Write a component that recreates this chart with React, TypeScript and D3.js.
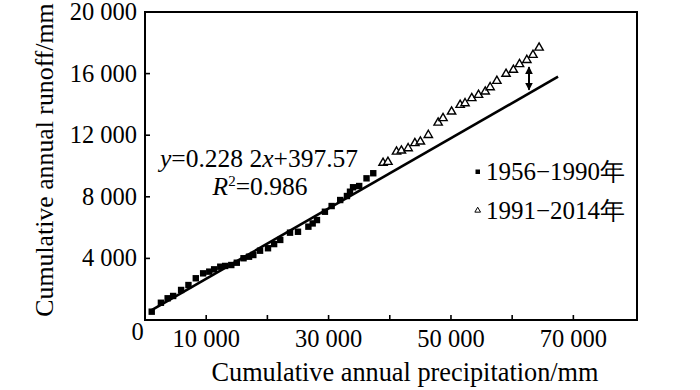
import React from 'react';
import * as d3 from 'd3';

// Cumulative annual precipitation (mm) and runoff (mm)
const precip1956 = [1100, 2600, 3700, 4600, 5900, 7100, 8300, 9500, 10500, 11300, 12300, 13100, 14100, 15000, 16100, 17000, 17700, 18800, 20100, 21100, 22100, 23700, 25000, 26700, 27400, 28100, 29400, 30500, 31900, 33000, 33500, 34000, 35000, 36200, 37300];
const runoff1956 = [540, 1120, 1410, 1560, 1950, 2270, 2710, 3030, 3140, 3290, 3460, 3510, 3570, 3720, 4010, 4110, 4220, 4500, 4660, 4930, 5200, 5670, 5730, 6060, 6270, 6490, 7030, 7400, 7790, 8050, 8330, 8620, 8700, 9200, 9530];
const precip1991 = [38900, 39700, 41100, 41900, 43000, 44100, 45000, 46300, 47900, 48700, 50100, 51500, 52300, 53400, 54500, 55600, 56400, 57500, 59000, 60200, 61200, 62400, 63400, 64400];
const runoff1991 = [10200, 10260, 10930, 11000, 11150, 11480, 11580, 12010, 12810, 13100, 13530, 13960, 14070, 14400, 14610, 14830, 15110, 15520, 15980, 16240, 16610, 16880, 17210, 17680];

const xTicks = [10000, 20000, 30000, 40000, 50000, 60000, 70000];
const xTickLabels = [10000, 30000, 50000, 70000];
const yTicks = [4000, 8000, 12000, 16000, 20000];
const slope = 0.2282;
const intercept = 397.57;
const fitRange = [800, 67500];
const arrowX = 62750;
const arrowRange = [14950, 16420];
const legendLabels = ['1956\u22121990\u5e74', '1991\u22122014\u5e74'];

const FONT = '"Liberation Serif", "Times New Roman", serif';

export default function App() {
  const x = d3.scaleLinear().domain([0, 80400]).range([145, 637]);
  const y = d3.scaleLinear().domain([0, 20000]).range([320, 12]);
  const fmt = d3.formatLocale({ thousands: ' ', grouping: [3], decimal: '.', currency: ['', ''] }).format(',');
  const tri = d3.symbol(d3.symbolTriangle, 30)();
  const triSmall = d3.symbol(d3.symbolTriangle, 14)();
  const fitLine = d3.line<number>().x((d) => x(d)).y((d) => y(slope * d + intercept))(fitRange);
  const [x0, x1] = x.range();
  const [yb, yt] = y.range();

  return (
    <svg width={700} height={390} style={{ position: 'absolute', left: 0, top: 0, background: '#fff' }} fontFamily={FONT}>
      <rect x={0} y={0} width={700} height={390} fill="#fff" />
      {/* frame */}
      <rect x={x0} y={yt} width={x1 - x0} height={yb - yt} fill="none" stroke="#000" strokeWidth={2} />
      {/* x ticks */}
      {xTicks.map((t) => (
        <line key={'xt' + t} x1={x(t)} x2={x(t)} y1={yb} y2={yb - 5} stroke="#000" strokeWidth={1.6} />
      ))}
      {xTickLabels.map((t) => (
        <text key={'xl' + t} x={x(t)} y={347} textAnchor="middle" fontSize={24.5}>{fmt(t)}</text>
      ))}
      <text x={137.5} y={340} textAnchor="middle" fontSize={24.5}>0</text>
      {/* y ticks */}
      {yTicks.map((t) => (
        <line key={'yt' + t} x1={x0} x2={x0 + 5} y1={y(t)} y2={y(t)} stroke="#000" strokeWidth={1.6} />
      ))}
      {yTicks.map((t) => (
        <text key={'yl' + t} x={137} y={y(t) + 8} textAnchor="end" fontSize={24.5}>{fmt(t)}</text>
      ))}
      {/* axis titles */}
      <text x={405} y={381} textAnchor="middle" fontSize={26.3}>Cumulative annual precipitation/mm</text>
      <text transform="translate(53,160) rotate(-90)" textAnchor="middle" fontSize={25.8}>Cumulative annual runoff/mm</text>
      {/* fit line */}
      <path d={fitLine || ''} fill="none" stroke="#000" strokeWidth={2.6} />
      {/* squares */}
      {precip1956.map((p, i) => (
        <rect key={'s' + i} x={x(p) - 3.2} y={y(runoff1956[i]) - 3.2} width={6.4} height={6.4} fill="#000" />
      ))}
      {/* triangles */}
      {precip1991.map((p, i) => (
        <path key={'t' + i} d={tri || ''} transform={`translate(${x(p)},${y(runoff1991[i])})`} fill="#fff" stroke="#000" strokeWidth={1.4} />
      ))}
      {/* double arrow */}
      <defs>
        <marker id="ah" viewBox="0 0 10 10" refX={9} refY={5} markerWidth={4} markerHeight={4} orient="auto-start-reverse">
          <path d="M0,0 L10,5 L0,10 z" fill="#000" />
        </marker>
      </defs>
      <line x1={x(arrowX)} x2={x(arrowX)} y1={y(arrowRange[0])} y2={y(arrowRange[1])} stroke="#000" strokeWidth={2} markerStart="url(#ah)" markerEnd="url(#ah)" />
      {/* equation */}
      <text x={259} y={167} textAnchor="middle" fontSize={25.5}>
        <tspan fontStyle="italic">y</tspan>=0.228 2<tspan fontStyle="italic">x</tspan>+397.57
      </text>
      <text x={260} y={195} textAnchor="middle" fontSize={25.5}>
        <tspan fontStyle="italic">R</tspan><tspan fontSize={15} dy={-9}>2</tspan><tspan dy={9}>=0.986</tspan>
      </text>
      {/* legend */}
      <rect x={475.5} y={169.5} width={4.5} height={4.5} fill="#000" />
      <text x={486} y={180} fontSize={25}>{legendLabels[0]}</text>
      <path d={triSmall || ''} transform="translate(477.7,210.5)" fill="#fff" stroke="#000" strokeWidth={1} />
      <text x={486} y={219} fontSize={25}>{legendLabels[1]}</text>
    </svg>
  );
}
